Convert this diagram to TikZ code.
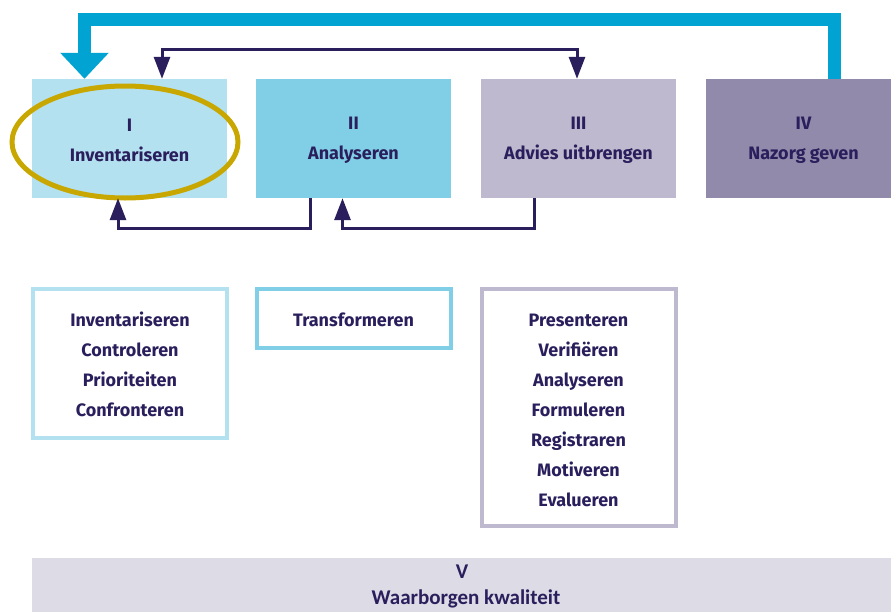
\documentclass[tikz,border=0pt]{standalone}
\usepackage{fontspec}
\setmainfont{Fira Sans}
\newfontfamily\barfont{Carlito}
\usetikzlibrary{arrows.meta,shapes.geometric}
\definecolor{phaseI}{HTML}{B3E1F0}
\definecolor{phaseII}{HTML}{80CFE6}
\definecolor{phaseIII}{HTML}{BEB9CE}
\definecolor{phaseIV}{HTML}{918AAB}
\definecolor{phaseV}{HTML}{DDDBE6}
\definecolor{navy}{HTML}{2A1F5C}
\definecolor{loopblue}{HTML}{00A3D2}
\definecolor{gold}{HTML}{C8A700}
\tikzset{
  phase/.style={rectangle, inner sep=0pt, minimum width=195pt, minimum height=119pt,
    text=navy, align=center, font=\fontsize{18}{30}\selectfont\bfseries},
  listbox/.style={rectangle, draw=#1, line width=4pt, fill=white, inner sep=0pt,
    minimum width=194pt, text=navy, align=center,
    font=\fontsize{18}{30}\selectfont\bfseries},
  flow/.style={navy, line width=3pt, line join=miter,
    -{Triangle[width=16pt,length=22pt]}},
  loop/.style={loopblue, line width=13pt, line join=miter,
    -{Triangle[width=47pt,length=26pt]}},
  bartext/.style={text=navy, font=\barfont\fontsize{21}{24}\selectfont\bfseries},
}
\begin{document}
\begin{tikzpicture}[x=1pt,y=-1pt]
\useasboundingbox (0,0) rectangle (891,611);

% the four phases
\node[phase, fill=phaseI]   (p1) at (129.5,138.5) {};
\node[phase, fill=phaseII]  (p2) at (353.5,138.5) {};
\node[phase, fill=phaseIII] (p3) at (578.5,138.5) {};
\node[phase, fill=phaseIV, minimum width=185pt] (p4) at (798.5,138.5) {};
\node[phase, minimum height=0pt] (p1t) at (129.5,140) {I\\Inventariseren};
\node[phase, minimum height=0pt] (p2t) at (353.5,140) {II\\Analyseren};
\node[phase, minimum height=0pt] (p3t) at (578.5,140) {III\\Advies uitbrengen};
\node[phase, minimum height=0pt] (p4t) at (803.5,140) {IV\\Nazorg geven};

% highlight round the first phase
\node[ellipse, draw=gold, line width=5pt, minimum width=226pt, minimum height=112pt]
  (hl) at (125,142) {};

% feedback from aftercare back to inventory
\coordinate (l1) at (834,19.5);
\coordinate (l2) at (84.5,19.5);
\draw[loop] (p4.north -| l1) -- (l1) -- (l2) -- (l2 |- p1.north);

% link between phase I and phase III
\coordinate (t1) at (162,49.5);
\coordinate (t2) at (577,49.5);
\draw[flow, {Triangle[width=16pt,length=22pt]}-{Triangle[width=16pt,length=22pt]}]
  (t1 |- p1.north) -- (t1) -- (t2) -- (t2 |- p3.north);

% returns under the phases
\coordinate (b1) at (310,228.5);
\coordinate (b2) at (118,228.5);
\draw[flow] (b1 |- p2.south) -- (b1) -- (b2) -- (b2 |- p1.south);
\coordinate (b3) at (534,228.5);
\coordinate (b4) at (342.5,228.5);
\draw[flow] (b3 |- p3.south) -- (b3) -- (b4) -- (b4 |- p2.south);

% activities per phase
\node[listbox=phaseI, minimum height=149pt] (a1) at (130,363.5) {};
\node[listbox=phaseII, minimum height=59pt] (a2) at (353.5,318.5) {};
\node[listbox=phaseIII, minimum height=237pt] (a3) at (578.5,407.5) {};
\node[phase, minimum height=0pt] (a1t) at (130,364)
  {Inventariseren\\Controleren\\Prioriteiten\\Confronteren};
\node[phase, minimum height=0pt] (a2t) at (353.5,320) {Transformeren};
\node[phase, minimum height=0pt] (a3t) at (578.5,410)
  {Presenteren\\Verifiëren\\Analyseren\\Formuleren\\Registraren\\Motiveren\\Evalueren};

% quality assurance bar
\node[rectangle, fill=phaseV, inner sep=0pt, minimum width=859pt, minimum height=60pt,
  anchor=north west] (q) at (32,558) {};
\node[bartext] (qa) at (462,572) {V};
\node[bartext] (qb) at (466,598.5) {Waarborgen kwaliteit};
\end{tikzpicture}
\end{document}
